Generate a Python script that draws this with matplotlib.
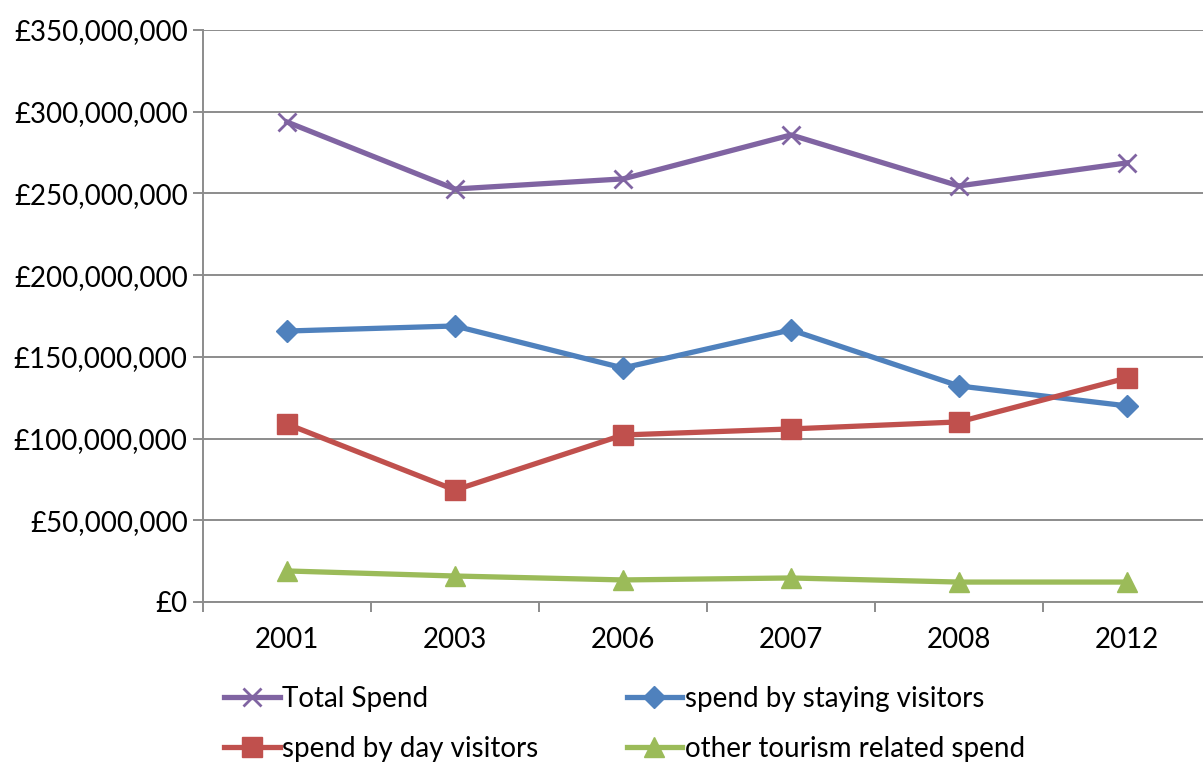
import matplotlib
matplotlib.use("Agg")
import matplotlib.pyplot as plt
from matplotlib.ticker import FuncFormatter, FixedLocator

years = ["2001", "2003", "2006", "2007", "2008", "2012"]
total_spend = [293.7e6, 252.7e6, 258.9e6, 285.8e6, 254.6e6, 268.7e6]
staying = [165.8e6, 168.9e6, 143.2e6, 166.5e6, 132.2e6, 120.0e6]
day = [108.9e6, 68.5e6, 102.2e6, 105.9e6, 110.2e6, 137.1e6]
other = [19.0e6, 15.9e6, 13.5e6, 14.7e6, 12.2e6, 12.2e6]

plt.rcParams['font.family'] = ['Lato', 'DejaVu Sans']

W, H = 1203, 764
fig = plt.figure(figsize=(W / 100, H / 100), dpi=100)
left, right, top, bottom = 203, 1211, 30, 602
ax = fig.add_axes([left / W, 1 - bottom / H, (right - left) / W, (bottom - top) / H])

x = list(range(len(years)))
lw = 3.8
h1, = ax.plot(x, total_spend, color='#8064A2', lw=lw, marker='x', ms=13, mew=2, label='Total Spend', zorder=3)
h2, = ax.plot(x, staying, color='#4F81BD', lw=lw, marker='D', ms=11, label='spend by staying visitors', zorder=3)
h3, = ax.plot(x, day, color='#C0504D', lw=lw, marker='s', ms=14, label='spend by day visitors', zorder=3)
h4, = ax.plot(x, other, color='#9BBB59', lw=lw, marker='^', ms=14, label='other tourism related spend', zorder=3)

ax.set_xlim(-0.5, 5.5)
ax.set_ylim(0, 350e6)
ax.set_yticks([i * 50e6 for i in range(8)])
ax.yaxis.set_major_formatter(FuncFormatter(lambda v, p: "£{:,.0f}".format(v)))
ax.grid(axis='y', color='#8c8c8c', lw=1.4)
ax.set_axisbelow(True)

ax.set_xticks(x)
ax.set_xticklabels(years)
ax.xaxis.set_minor_locator(FixedLocator([i + 0.5 for i in range(-1, 6)]))
ax.tick_params(axis='x', which='major', length=0, pad=18, labelsize=20)
ax.tick_params(axis='x', which='minor', length=7, width=1.4, color='#8c8c8c', direction='out')
ax.tick_params(axis='y', length=7, width=1.4, color='#8c8c8c', direction='out', pad=4, labelsize=20)

for s in ['top', 'right']:
    ax.spines[s].set_visible(False)
for s in ['left', 'bottom']:
    ax.spines[s].set_color('#8c8c8c')
    ax.spines[s].set_linewidth(1.4)

leg = fig.legend([h1, h3, h2, h4], [h1.get_label(), h3.get_label(), h2.get_label(), h4.get_label()],
                 loc='upper left', bbox_to_anchor=(224 / W, 1 - 686 / H), ncol=2,
                 frameon=False, fontsize=20, handlelength=2.0, handletextpad=0.1,
                 columnspacing=3.17, labelspacing=0.85, borderaxespad=0, borderpad=0)

fig.savefig("out.png", dpi=100)
